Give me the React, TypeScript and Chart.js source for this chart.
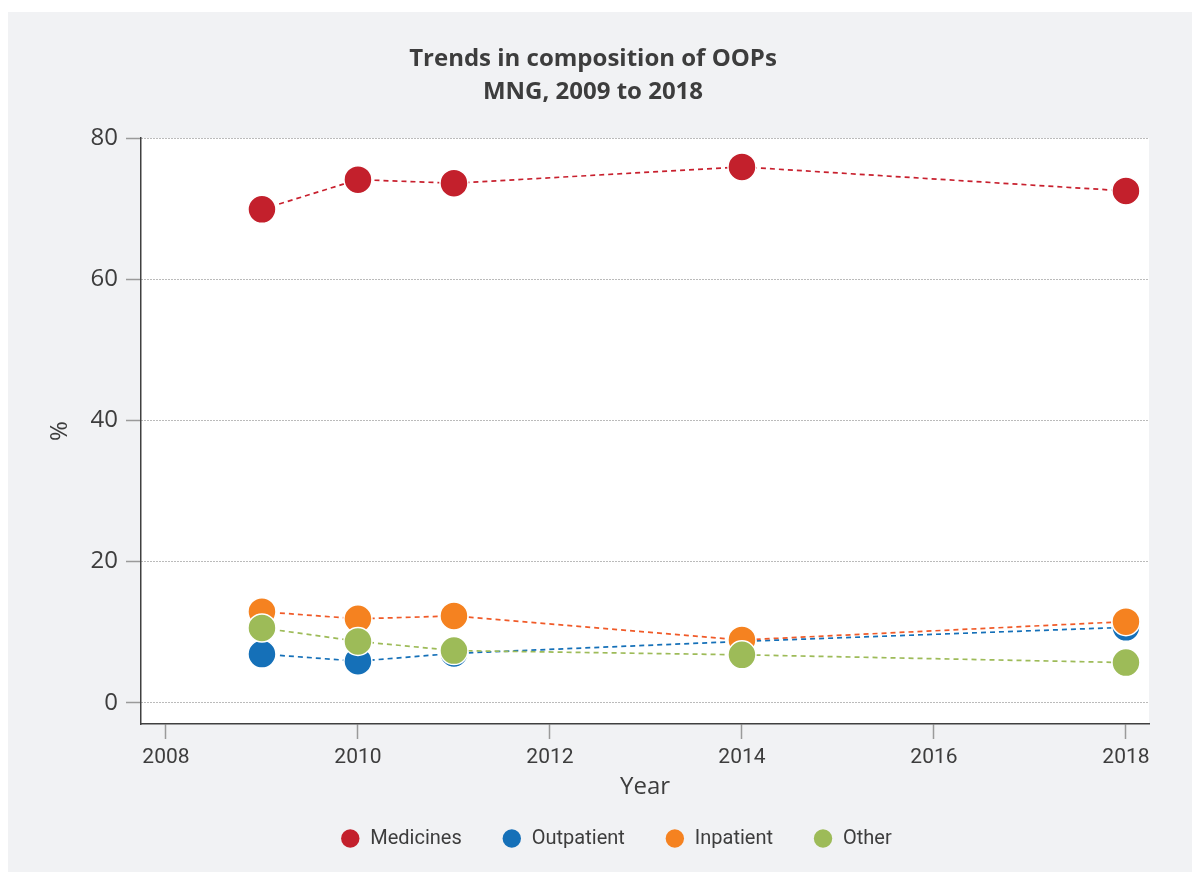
import React, { useEffect, useRef } from "react";
import { Chart, registerables } from "chart.js";

Chart.register(...registerables);

const years = [2009, 2010, 2011, 2014, 2018];
const medicines = [69.9, 74.1, 73.6, 75.9, 72.5];
const outpatient = [6.9, 5.9, 7.0, 8.7, 10.7];
const inpatient = [12.9, 11.9, 12.3, 8.9, 11.5];
const other = [10.6, 8.7, 7.4, 6.8, 5.7];

const seriesNames = ["Medicines", "Outpatient", "Inpatient", "Other"];
const seriesValues = [medicines, outpatient, inpatient, other];
const markerColors = ["#c3202c", "#1570b8", "#f58220", "#9dbb58"];
const lineColors = ["#c8202e", "#1570b8", "#f05a28", "#9dbb58"];
const drawOrder = [3, 2, 1, 0];

const xTicks = [2008, 2010, 2012, 2014, 2016, 2018];
const yTicks = [0, 20, 40, 60, 80];
const titleLines = ["Trends in composition of OOPs", "MNG, 2009 to 2018"];
const xTitle = "Year";
const yTitle = "%";

const TEXT = "#3d3d3d";
const SANS = "'Open Sans', 'Noto Sans', sans-serif";
const NARROW = "Roboto, 'Open Sans', sans-serif";

const plotBg = {
  id: "plotBg",
  beforeDraw(chart: any) {
    const { ctx, chartArea } = chart;
    if (!chartArea) return;
    ctx.save();
    ctx.fillStyle = "#ffffff";
    ctx.fillRect(chartArea.left, chartArea.top, chartArea.right - chartArea.left, chartArea.bottom - chartArea.top);
    ctx.restore();
  },
};

const legendShift = {
  id: "legendShift",
  afterLayout(chart: any) {
    const lg = chart.legend;
    if (lg) {
      lg.left += 23;
      lg.right += 23;
      lg.top += 3;
      lg.bottom += 3;
    }
  },
};

export default function App() {
  const ref = useRef<HTMLCanvasElement | null>(null);

  useEffect(() => {
    if (!ref.current) return;
    const datasets = seriesNames.map((name, i) => ({
      label: name,
      data: years.map((yr, j) => ({ x: yr, y: seriesValues[i][j] })),
      showLine: true,
      borderColor: lineColors[i],
      backgroundColor: markerColors[i],
      borderWidth: 1.7,
      borderDash: [5, 4],
      tension: 0,
      pointRadius: 14,
      pointHoverRadius: 14,
      pointBackgroundColor: markerColors[i],
      pointBorderColor: "#ffffff",
      pointBorderWidth: 1.5,
      order: drawOrder[i],
      clip: false as any,
    }));

    const chart = new Chart(ref.current, {
      type: "scatter",
      data: { datasets },
      plugins: [plotBg, legendShift],
      options: {
        responsive: false,
        animation: false,
        devicePixelRatio: 1,
        events: [],
        layout: { padding: { top: 0, bottom: 16.5, left: 0, right: 14 } },
        plugins: {
          tooltip: { enabled: false },
          title: {
            display: true,
            text: titleLines,
            color: TEXT,
            font: { family: SANS, size: 24, weight: "bold", lineHeight: 1.375 },
            padding: { top: 30.5, bottom: 29.5 },
          },
          legend: {
            display: true,
            position: "bottom",
            labels: {
              usePointStyle: true,
              pointStyle: "circle",
              boxHeight: 13,
              boxWidth: 23,
              padding: 40,
              color: TEXT,
              font: { family: NARROW, size: 20 },
              generateLabels: (c: any) =>
                c.data.datasets.map((ds: any, i: number) => ({
                  text: ds.label,
                  fillStyle: markerColors[i],
                  strokeStyle: markerColors[i],
                  lineWidth: 0,
                  lineDash: [],
                  pointStyle: "circle",
                  hidden: false,
                  datasetIndex: i,
                  fontColor: TEXT,
                })),
            },
          },
        },
        scales: {
          x: {
            type: "linear",
            min: 2007.74,
            max: 2018.24,
            afterBuildTicks: (s: any) => {
              s.ticks = xTicks.map((v) => ({ value: v }));
            },
            afterFit: (s: any) => {
              s.height = 61.5;
            },
            ticks: {
              autoSkip: false,
              maxRotation: 0,
              padding: 6,
              color: TEXT,
              font: { family: NARROW, size: 21 },
              callback: (v: any) => String(v),
            },
            grid: {
              drawOnChartArea: false,
              drawTicks: true,
              tickLength: 15,
              tickColor: "#9a9a9a",
              tickWidth: 1.5,
            },
            border: { display: true, color: "#404040", width: 1.5 },
            title: {
              display: true,
              text: xTitle,
              color: TEXT,
              font: { family: SANS, size: 24 },
              padding: { top: 0, bottom: -16 },
            },
          },
          y: {
            type: "linear",
            position: "left",
            min: -3,
            max: 80,
            afterBuildTicks: (s: any) => {
              s.ticks = yTicks.map((v) => ({ value: v }));
            },
            afterFit: (s: any) => {
              s.width = 133;
            },
            ticks: {
              padding: 8,
              color: TEXT,
              font: { family: SANS, size: 24 },
              callback: (v: any) => String(v),
            },
            grid: {
              color: "#777777",
              lineWidth: 1,
              drawTicks: true,
              tickLength: 15,
              tickColor: "#9a9a9a",
              tickWidth: 1.5,
              tickBorderDash: [0, 0],
            },
            border: { display: true, color: "#404040", width: 1.5, dash: [1, 2] },
            title: {
              display: true,
              text: yTitle,
              color: TEXT,
              font: { family: SANS, size: 24 },
              padding: { top: 37.6, bottom: 0 },
            },
          },
          yRight: {
            type: "linear",
            position: "right",
            display: true,
            min: -3,
            max: 80,
            grid: { display: false, drawTicks: false },
            ticks: { display: false },
            border: { display: false },
            afterFit: (s: any) => {
              s.width = 29;
            },
          },
        },
      } as any,
    });
    return () => chart.destroy();
  }, []);

  return (
    <div
      style={{
        position: "absolute",
        left: 8,
        top: 12,
        width: 1184,
        height: 860,
        background: "#f1f2f4",
      }}
    >
      <canvas ref={ref} width={1184} height={860} style={{ display: "block", width: 1184, height: 860 }} />
    </div>
  );
}
